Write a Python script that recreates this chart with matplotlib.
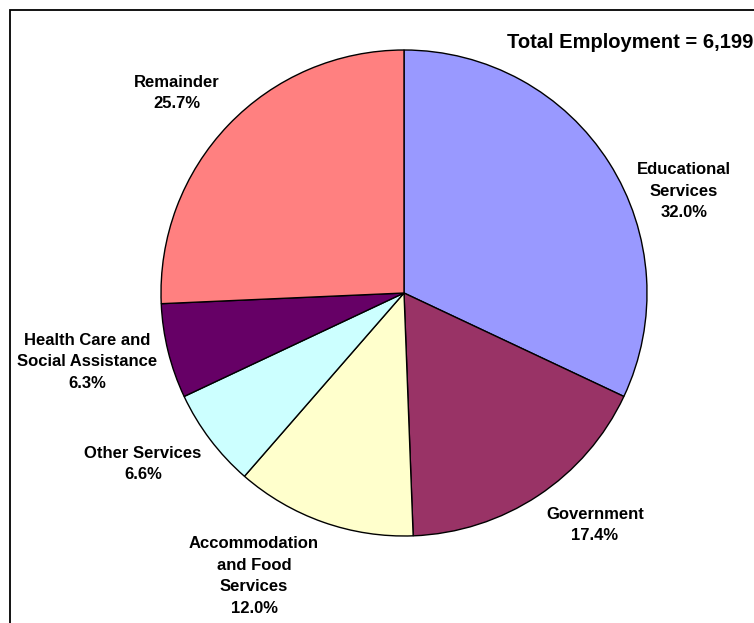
import matplotlib
matplotlib.use("Agg")
import matplotlib.pyplot as plt
from matplotlib.patches import Rectangle

categories = ["Educational\nServices", "Government", "Accommodation\nand Food\nServices",
              "Other Services", "Health Care and\nSocial Assistance", "Remainder"]
shares = [32.0, 17.4, 12.0, 6.6, 6.3, 25.7]
colors = ["#9999FF", "#993366", "#FFFFCC", "#CCFFFF", "#660066", "#FF8080"]
title_text = "Total Employment = 6,199"

# label block centres in pixel coords (x, y from top)
label_px = [(684, 191), (595, 525), (254, 576), (143, 464), (87, 362), (177, 93)]

W, H = 754, 623
plt.rcParams['font.family'] = ['Liberation Sans', 'DejaVu Sans']
fig = plt.figure(figsize=(W / 100, H / 100), dpi=100)

cx, cy, r = 404, 293, 243
ax = fig.add_axes([(cx - r) / W, (H - (cy + r)) / H, 2 * r / W, 2 * r / H])
ax.pie(shares, colors=colors, startangle=90, counterclock=False, radius=1,
       wedgeprops=dict(edgecolor="black", linewidth=1.0))
ax.set_xlim(-1, 1)
ax.set_ylim(-1, 1)
ax.set_aspect("equal")
ax.axis("off")

for cat, val, (px, py) in zip(categories, shares, label_px):
    fig.text(px / W, 1 - py / H, f"{cat}\n{val:.1f}%", ha="center", va="center",
             fontsize=12, fontweight="bold", linespacing=1.55)

fig.text(753 / W, 1 - 42 / H, title_text, ha="right", va="center",
         fontsize=14.5, fontweight="bold")

fig.patches.append(Rectangle((10 / W, -0.1), 1.2, (H - 10) / H + 0.1,
                             transform=fig.transFigure, fill=False,
                             edgecolor="black", linewidth=1.3))

fig.savefig("out.png", dpi=100)
